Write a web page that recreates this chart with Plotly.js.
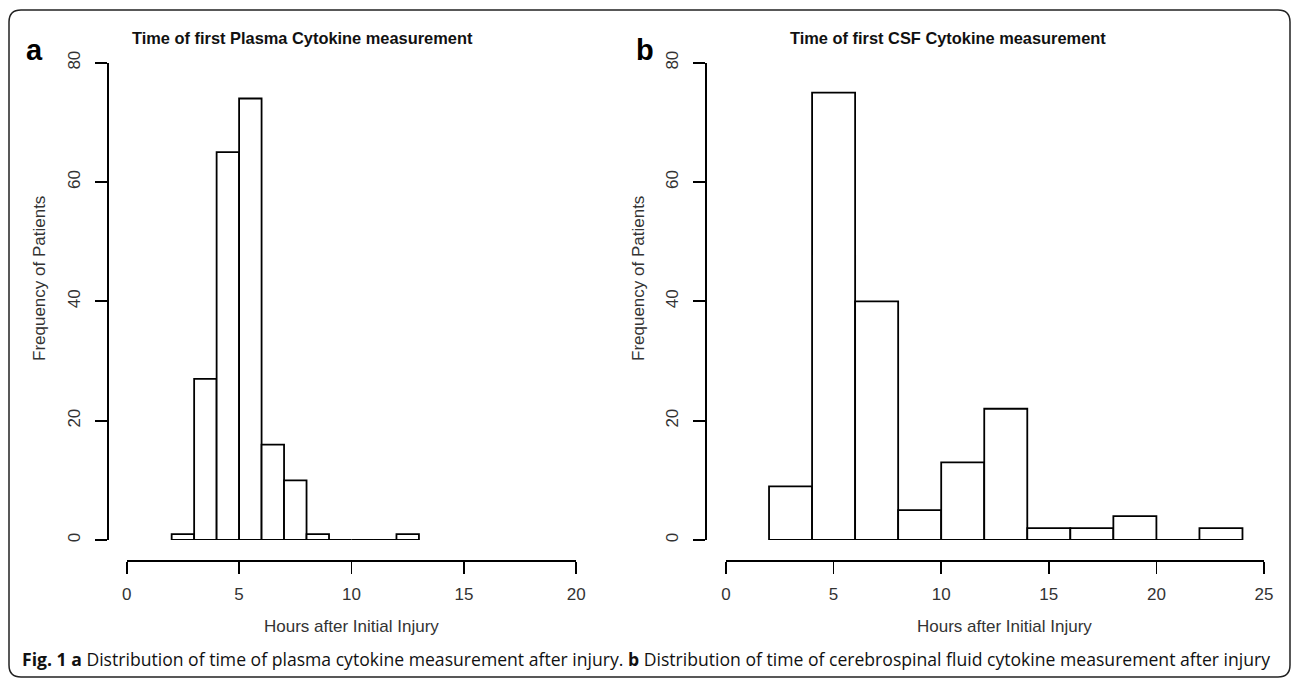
<!DOCTYPE html>
<html>
<head>
<meta charset="utf-8">
<script src="https://cdn.plot.ly/plotly-3.0.1.min.js"></script>
<style>html,body{margin:0;padding:0;background:#fff;}#chart{width:1296px;height:678px;}</style>
</head>
<body>
<div id="chart"></div>
<script>
// ---- Data ----
const plasmaBinStarts = [2, 3, 4, 5, 6, 7, 8, 9, 10, 11, 12];
const plasmaBinWidth = 1;
const plasmaCounts = [1, 27, 65, 74, 16, 10, 1, 0, 0, 0, 1];

const csfBinStarts = [2, 4, 6, 8, 10, 12, 14, 16, 18, 20, 22];
const csfBinWidth = 2;
const csfCounts = [9, 75, 40, 5, 13, 22, 2, 2, 4, 0, 2];

const plasmaXTicks = [0, 5, 10, 15, 20];
const csfXTicks = [0, 5, 10, 15, 20, 25];
const yTicks = [0, 20, 40, 60, 80];

const titleA = "Time of first Plasma Cytokine measurement";
const titleB = "Time of first CSF Cytokine measurement";
const xLabel = "Hours after Initial Injury";
const yLabel = "Frequency of Patients";
const caption = "<b>Fig. 1 a</b> Distribution of time of plasma cytokine measurement after injury. <b>b</b> Distribution of time of cerebrospinal fluid cytokine measurement after injury";

// ---- Layout helpers ----
const W = 1296, H = 678;
const px = x => x / W;
const py = y => (H - y) / H;
const arial = "Liberation Sans, Arial, Helvetica, sans-serif";

const barStyle = {color: "#ffffff", line: {color: "#000000", width: 1.8}};

const traces = [
  {
    type: "bar",
    x: plasmaBinStarts.map(s => s + plasmaBinWidth / 2),
    y: plasmaCounts,
    width: plasmaBinStarts.map(() => plasmaBinWidth),
    marker: barStyle,
    xaxis: "x", yaxis: "y",
    hoverinfo: "x+y"
  },
  {
    type: "bar",
    x: csfBinStarts.map(s => s + csfBinWidth / 2),
    y: csfCounts,
    width: csfBinStarts.map(() => csfBinWidth),
    marker: barStyle,
    xaxis: "x2", yaxis: "y2",
    hoverinfo: "x+y"
  }
];

const axisCommon = {
  showline: true, linecolor: "#000", linewidth: 1.8,
  ticks: "outside", ticklen: 12, tickwidth: 1.8, tickcolor: "#000",
  showgrid: false, zeroline: false,
  tickfont: {family: arial, size: 17, color: "#333"},
  fixedrange: true
};

const yDomain = [py(540), py(62.7)];

const layout = {
  width: W, height: H,
  margin: {l: 0, r: 0, t: 0, b: 0},
  paper_bgcolor: "#fff", plot_bgcolor: "rgba(0,0,0,0)",
  showlegend: false,
  bargap: 0,
  xaxis: Object.assign({}, axisCommon, {
    domain: [px(126.7), px(576.3)], range: [0, 20],
    tickvals: plasmaXTicks, anchor: "free", position: py(560), ticklabelstandoff: 6
  }),
  yaxis: Object.assign({}, axisCommon, {
    domain: yDomain, range: [0, 80],
    tickvals: yTicks, tickangle: -90, anchor: "free", position: px(107), ticklabelstandoff: 8
  }),
  xaxis2: Object.assign({}, axisCommon, {
    domain: [px(726), px(1264)], range: [0, 25],
    tickvals: csfXTicks, anchor: "free", position: py(560), ticklabelstandoff: 6
  }),
  yaxis2: Object.assign({}, axisCommon, {
    domain: yDomain, range: [0, 80],
    tickvals: yTicks, tickangle: -90, anchor: "free", position: px(705), ticklabelstandoff: 8
  }),
  annotations: [
    {text: titleA, x: px(302), y: py(38), xref: "paper", yref: "paper", showarrow: false,
     xanchor: "center", yanchor: "middle", font: {family: arial, size: 16.4, color: "#111", weight: "bold"}},
    {text: titleB, x: px(948), y: py(38), xref: "paper", yref: "paper", showarrow: false,
     xanchor: "center", yanchor: "middle", font: {family: arial, size: 16.4, color: "#111", weight: "bold"}},
    {text: "<b>a</b>", x: px(34), y: py(50), xref: "paper", yref: "paper", showarrow: false,
     xanchor: "center", yanchor: "middle", font: {family: arial, size: 29, color: "#000"}},
    {text: "<b>b</b>", x: px(645), y: py(50), xref: "paper", yref: "paper", showarrow: false,
     xanchor: "center", yanchor: "middle", font: {family: arial, size: 29, color: "#000"}},
    {text: yLabel, x: px(39), y: py(279), xref: "paper", yref: "paper", showarrow: false, textangle: -90,
     xanchor: "center", yanchor: "middle", font: {family: arial, size: 17, color: "#333"}},
    {text: yLabel, x: px(638), y: py(279), xref: "paper", yref: "paper", showarrow: false, textangle: -90,
     xanchor: "center", yanchor: "middle", font: {family: arial, size: 17, color: "#333"}},
    {text: xLabel, x: px(351), y: py(626), xref: "paper", yref: "paper", showarrow: false,
     xanchor: "center", yanchor: "middle", font: {family: arial, size: 17, color: "#333"}},
    {text: xLabel, x: px(1004), y: py(626), xref: "paper", yref: "paper", showarrow: false,
     xanchor: "center", yanchor: "middle", font: {family: arial, size: 17, color: "#333"}},
    {text: caption, x: px(20), y: py(659), xref: "paper", yref: "paper", showarrow: false,
     xanchor: "left", yanchor: "middle", font: {family: "Open Sans, sans-serif", size: 17.6, color: "#111"}}
  ],
  shapes: []
};

// rounded frame
(function () {
  const L = 9, R = 1290, T = 10, B = 677, r = 12;
  const X = v => px(v), Y = v => py(v);
  const path = `M ${X(L + r)},${Y(T)} L ${X(R - r)},${Y(T)} Q ${X(R)},${Y(T)} ${X(R)},${Y(T + r)} ` +
    `L ${X(R)},${Y(B - r)} Q ${X(R)},${Y(B)} ${X(R - r)},${Y(B)} L ${X(L + r)},${Y(B)} ` +
    `Q ${X(L)},${Y(B)} ${X(L)},${Y(B - r)} L ${X(L)},${Y(T + r)} Q ${X(L)},${Y(T)} ${X(L + r)},${Y(T)} Z`;
  layout.shapes.push({type: "path", xref: "paper", yref: "paper", path: path,
    line: {color: "#222", width: 1.5}, fillcolor: "rgba(0,0,0,0)"});
})();

Plotly.newPlot("chart", traces, layout, {displayModeBar: false, staticPlot: true});
</script>
</body>
</html>
